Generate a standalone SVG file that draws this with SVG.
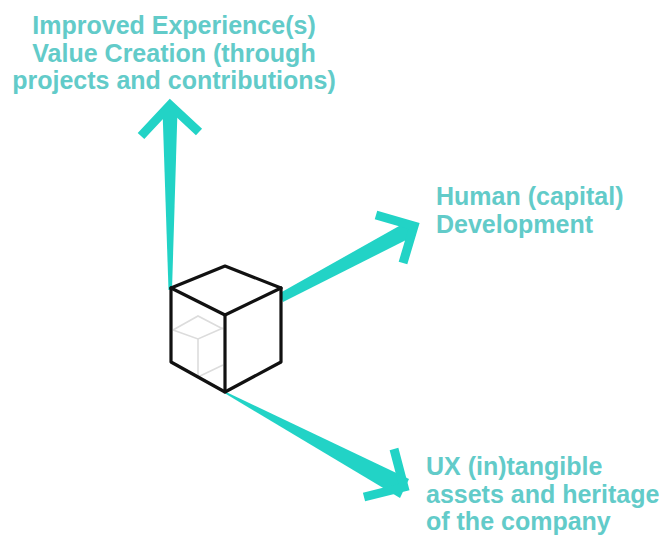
<svg xmlns="http://www.w3.org/2000/svg" width="660" height="539" viewBox="0 0 660 539">
<style>
.lbl{font-family:"Liberation Sans",Arial,sans-serif;font-weight:bold;font-size:25px;fill:#62cbc9}
.shaft{fill:#22d3c6}
.head{fill:none;stroke:#22d3c6;stroke-width:9;stroke-linejoin:miter;stroke-miterlimit:10;stroke-linecap:butt}
.edge{fill:none;stroke:#111;stroke-width:3.2;stroke-linejoin:round;stroke-linecap:round}
.inner{fill:none;stroke:#dcdcdc;stroke-width:1.6}
</style>
<rect width="660" height="539" fill="#fff"/>
<g id="connectors">
<polygon class="shaft" points="168.5,290 172,290 177.5,110 162.5,110"/>
<polyline class="head" points="141,136 170,105 199,132"/>
<polygon class="shaft" points="280,293 283,302 416,235 408,221"/>
<polyline class="head" points="376,215 414,226 403,263"/>
<polygon class="shaft" points="224,391 226,394 400,498 409,479"/>
<polyline class="head" points="394,449 404,487 364,497"/>
</g>
<g id="cube">
<polygon points="225,266 281,288 281,362 225,392 171,362 171,288" fill="#fff"/>
<polyline class="inner" points="173,330 198,316 223,329"/>
<polyline class="inner" points="173,330 198,339 223,328"/>
<polyline class="inner" points="198,339 198,377 223,365"/>
<polygon class="edge" points="225,266 281,288 281,362 225,392 171,362 171,288"/>
<polyline class="edge" points="171,288 225,315 281,288"/>
<line class="edge" x1="225" y1="315" x2="225" y2="392"/>
</g>
<g id="label-top">
<text class="lbl" text-anchor="middle"><tspan x="174" y="34">Improved Experience(s)</tspan><tspan x="174" y="62">Value Creation (through</tspan><tspan x="174" y="89">projects and contributions)</tspan></text>
</g>
<g id="label-right">
<text class="lbl"><tspan x="436" y="205">Human (capital)</tspan><tspan x="436" y="233">Development</tspan></text>
</g>
<g id="label-bottom">
<text class="lbl"><tspan x="426" y="475">UX (in)tangible</tspan><tspan x="426" y="503">assets and heritage</tspan><tspan x="426" y="530">of the company</tspan></text>
</g>
</svg>
